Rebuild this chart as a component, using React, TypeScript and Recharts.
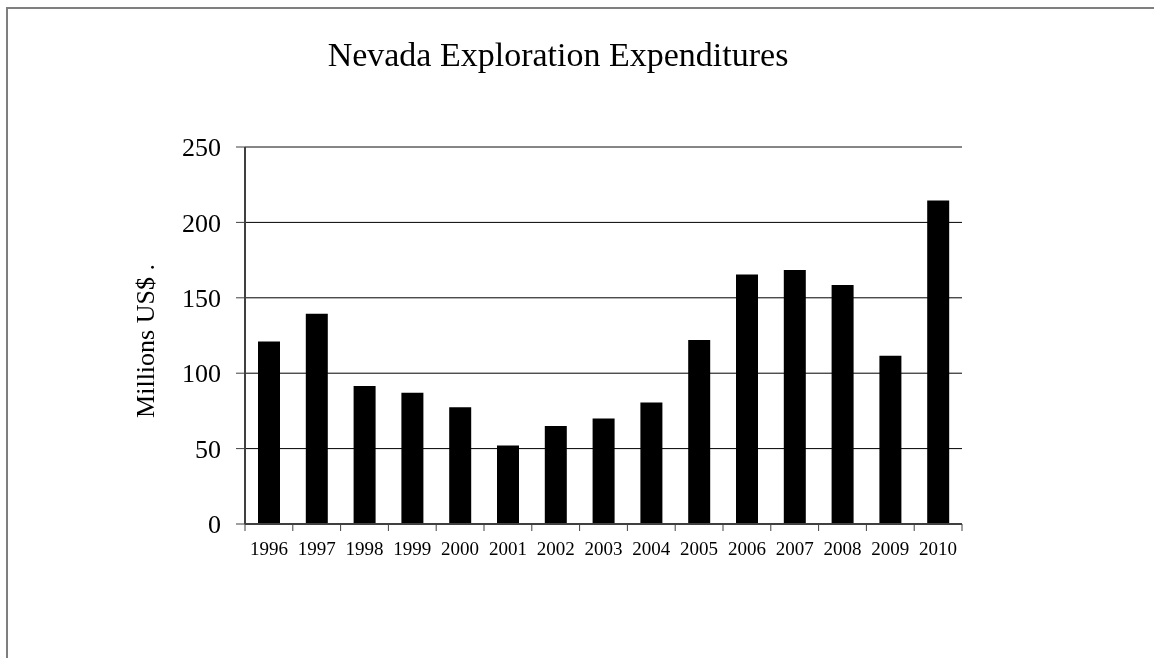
import React from 'react';
import { BarChart, Bar, XAxis, YAxis, CartesianGrid, ReferenceLine } from 'recharts';

const years = ['1996', '1997', '1998', '1999', '2000', '2001', '2002', '2003', '2004', '2005', '2006', '2007', '2008', '2009', '2010'];
const expenditures = [121, 139.5, 91.5, 87, 77.5, 52, 65, 70, 80.5, 122, 165.5, 168.5, 158.5, 111.5, 214.5];
const yTicks = [0, 50, 100, 150, 200, 250];
const title = 'Nevada Exploration Expenditures';
const yLabel = 'Millions US$ .';

const data = years.map((y, i) => ({ year: y, value: expenditures[i] }));

const W = 1146;
const H = 650;
const M_LEFT = 177;
const Y_W = 60;
const M_RIGHT = 192;
const M_TOP = 139;
const X_H = 40;
const M_BOTTOM = 94;
const STEP = (W - M_LEFT - Y_W - M_RIGHT) / years.length;
const FONT = '"Liberation Serif", "Times New Roman", serif';

const XTick = (props: any) => {
  const { x, y, payload, index } = props;
  const last = index === years.length - 1;
  return (
    <g>
      <line x1={x - STEP / 2} y1={y} x2={x - STEP / 2} y2={y + 7} stroke="#404040" strokeWidth={1} />
      {last && <line x1={x + STEP / 2} y1={y} x2={x + STEP / 2} y2={y + 7} stroke="#404040" strokeWidth={1} />}
      <text x={x} y={y + 31} textAnchor="middle" fontSize={19} fontFamily={FONT} fill="#000">
        {payload.value}
      </text>
    </g>
  );
};

const YLabelContent = (props: any) => {
  const vb = props.viewBox || { x: 0, y: 0, width: 0, height: 0 };
  const cx = vb.x - 31;
  const cy = vb.y + vb.height / 2 + 5.5;
  return (
    <text
      x={cx}
      y={cy}
      transform={`rotate(-90, ${cx}, ${cy})`}
      textAnchor="middle"
      fontSize={26}
      fontFamily={FONT}
      fill="#000"
    >
      {yLabel}
    </text>
  );
};

export default function App() {
  return (
    <div style={{ position: 'relative', width: W, height: H, fontFamily: FONT }}>
      <div
        style={{
          position: 'fixed',
          left: 6,
          top: 7,
          width: 1160,
          height: 670,
          borderTop: '2px solid #7f7f7f',
          borderLeft: '2px solid #7f7f7f',
          boxSizing: 'border-box',
          pointerEvents: 'none',
        }}
      />
      <div
        style={{
          position: 'absolute',
          left: 0,
          top: 30,
          width: 1100,
          textAlign: 'center',
          fontSize: 34,
          lineHeight: '34px',
          color: '#000',
          fontFamily: FONT,
          whiteSpace: 'nowrap',
        }}
      >
        {title}
      </div>
      <div style={{ position: 'absolute', left: 0, top: 0 }}>
        <BarChart
          width={W}
          height={H}
          data={data}
          margin={{ top: M_TOP, right: M_RIGHT, left: M_LEFT, bottom: M_BOTTOM }}
        >
          <CartesianGrid horizontal vertical={false} stroke="#000" strokeWidth={1} />
          <ReferenceLine y={250} stroke="#868686" strokeWidth={2} ifOverflow="visible" />
          <XAxis
            dataKey="year"
            height={X_H}
            tickSize={0}
            tickMargin={0}
            tickLine={false}
            interval={0}
            axisLine={{ stroke: '#404040', strokeWidth: 2 }}
            tick={<XTick />}
          />
          <YAxis
            width={Y_W}
            domain={[0, 250]}
            ticks={yTicks}
            interval={0}
            tickSize={9}
            tickMargin={15}
            tickLine={{ stroke: '#404040', strokeWidth: 1 }}
            axisLine={{ stroke: '#404040', strokeWidth: 2 }}
            tick={{ fontSize: 26, fontFamily: FONT, fill: '#000' }}
            label={<YLabelContent />}
          />
          <YAxis
            yAxisId="right"
            orientation="right"
            width={0}
            domain={[0, 250]}
            tick={false}
            tickLine={false}
            axisLine={{ stroke: '#868686', strokeWidth: 2 }}
          />
          <Bar dataKey="value" fill="#000" barSize={22} isAnimationActive={false} />
        </BarChart>
      </div>
    </div>
  );
}
